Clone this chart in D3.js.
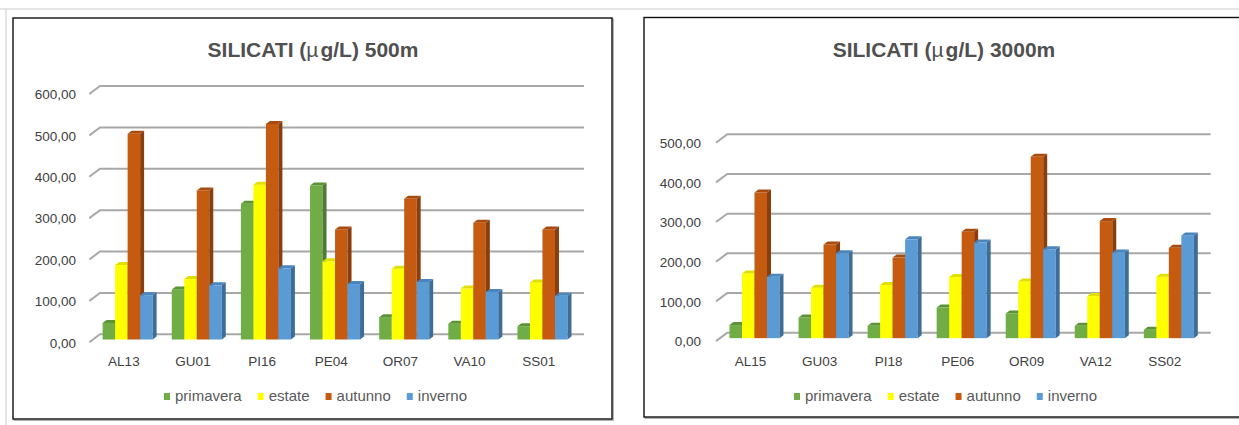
<!DOCTYPE html>
<html>
<head>
<meta charset="utf-8">
<script src="https://cdn.jsdelivr.net/npm/d3@7"></script>
<style>
  html, body { margin: 0; padding: 0; background: #fff; }
  svg { display: block; }
</style>
</head>
<body>
<svg id="chart" width="1239" height="425"></svg>
<script>
// ---- data ----
const seasons = ["primavera", "estate", "autunno", "inverno"];

const stations500 = ["AL13", "GU01", "PI16", "PE04", "OR07", "VA10", "SS01"];
const primavera500 = [40, 121, 328, 372, 54, 38, 32];
const estate500    = [180, 146, 374, 189, 171, 123, 138];
const autunno500   = [497, 360, 521, 266, 340, 282, 266];
const inverno500   = [107, 131, 172, 134, 139, 115, 106];
const ticks500 = [0, 100, 200, 300, 400, 500, 600];

const stations3000 = ["AL15", "GU03", "PI18", "PE06", "OR09", "VA12", "SS02"];
const primavera3000 = [33, 52, 31, 77, 62, 31, 21];
const estate3000    = [163, 127, 134, 154, 143, 106, 155];
const autunno3000   = [367, 236, 203, 268, 457, 295, 228];
const inverno3000   = [155, 214, 249, 241, 224, 216, 259];
const ticks3000 = [0, 100, 200, 300, 400, 500];

// ---- styling ----
const faceColors = { primavera: "#70AD47", estate: "#FFFF00", autunno: "#C55A11", inverno: "#5B9BD5" };
const sideColors = { primavera: "#4E7A31", estate: "#B8B800", autunno: "#8A3E0C", inverno: "#3E6E98" };
const topColors  = { primavera: "#5A9437", estate: "#E0E000", autunno: "#A84B0E", inverno: "#4A86BE" };

const svg = d3.select("#chart");
const fmt = v => d3.format(".2f")(v).replace(".", ",");

// page edge lines
svg.append("line").attr("x1", 0).attr("x2", 1239).attr("y1", 9).attr("y2", 9)
  .attr("stroke", "#dcdcdc").attr("stroke-width", 1.5);
svg.append("line").attr("x1", 6).attr("x2", 6).attr("y1", 9).attr("y2", 425)
  .attr("stroke", "#dcdcdc").attr("stroke-width", 1.5);

function drawChart(opt) {
  const g = svg.append("g");

  // frame with a faint shadow
  g.append("rect")
    .attr("x", opt.frame[0] + 1.2).attr("y", opt.frame[1] + 1.2)
    .attr("width", opt.frame[2]).attr("height", opt.frame[3])
    .attr("fill", "none").attr("stroke", "#a0a0a0").attr("stroke-width", 1.2);
  g.append("rect")
    .attr("x", opt.frame[0]).attr("y", opt.frame[1])
    .attr("width", opt.frame[2]).attr("height", opt.frame[3])
    .attr("fill", "#fff").attr("stroke", "#111").attr("stroke-width", 1.4);

  // title
  const title = g.append("text")
    .attr("x", opt.titleX).attr("y", 57)
    .attr("text-anchor", "middle")
    .attr("font-family", "Liberation Sans, Arial, sans-serif")
    .attr("font-weight", "bold").attr("font-size", 21)
    .attr("fill", "#505050");
  title.append("tspan").text("SILICATI (");
  title.append("tspan").attr("font-weight", "normal").text("\u00B5");
  title.append("tspan").attr("dx", 2).text("g/L) " + opt.depth);

  // scales on the back wall
  const x = d3.scaleBand().domain(opt.categories).range(opt.xRange).padding(0);
  const y = d3.scaleLinear().domain([0, d3.max(opt.ticks)]).range(opt.yRange);
  const [dx, dy] = opt.depthVec;          // floor depth, front -> back

  // gridlines with slanted floor edge
  const grid = g.append("g");
  opt.ticks.forEach(t => {
    grid.append("path")
      .attr("d", `M${opt.xRange[0] - dx},${y(t) - dy} L${opt.xRange[0]},${y(t)} L${opt.xRange[1]},${y(t)}`)
      .attr("fill", "none").attr("stroke", "#a8a8a8").attr("stroke-width", 2);
  });

  // value axis labels
  const yAxis = d3.axisLeft(y).tickValues(opt.ticks).tickFormat(fmt).tickSize(0).tickPadding(0);
  const ya = g.append("g")
    .attr("transform", `translate(${opt.labelRight},${-dy + 0.5})`)
    .call(yAxis);
  ya.select(".domain").remove();
  ya.selectAll("text")
    .attr("font-family", "Liberation Sans, Arial, sans-serif")
    .attr("font-size", 13.5).attr("fill", "#404040");

  // category axis labels
  const xAxis = d3.axisBottom(x).tickSize(0).tickPadding(0);
  const xa = g.append("g")
    .attr("transform", `translate(${-dx},${opt.catY})`)
    .call(xAxis);
  xa.select(".domain").remove();
  xa.selectAll("text")
    .attr("dy", "0.35em")
    .attr("font-family", "Liberation Sans, Arial, sans-serif")
    .attr("font-size", 13.5).attr("fill", "#404040");

  // 3D bars
  const groupW = 50;
  const inner = d3.scaleBand().domain(seasons).range([0, groupW]).padding(0);
  const bw = inner.bandwidth();
  const offX = -0.65 * dx, offY = -0.65 * dy;   // bar front plane
  const bdx = 4, bdy = -3;                        // bar depth
  const bars = g.append("g");
  opt.categories.forEach((c, i) => {
    seasons.forEach(s => {
      const v = opt.series[s][i];
      const x0 = x(c) + (x.bandwidth() - groupW) / 2 + inner(s) + offX;
      const x1 = x0 + bw;
      const yt = y(v) + offY;
      const yb = y(0) + offY;
      // front face
      bars.append("rect").attr("x", x0).attr("y", yt).attr("width", bw).attr("height", yb - yt)
        .attr("fill", faceColors[s]);
      // side face
      bars.append("path")
        .attr("d", `M${x1},${yt} L${x1 + bdx},${yt + bdy} L${x1 + bdx},${yb + bdy} L${x1},${yb} Z`)
        .attr("fill", sideColors[s]);
      // top face
      bars.append("path")
        .attr("d", `M${x0},${yt} L${x0 + bdx},${yt + bdy} L${x1 + bdx},${yt + bdy} L${x1},${yt} Z`)
        .attr("fill", topColors[s]);
    });
  });

  // legend
  const leg = g.append("g");
  const items = [];
  seasons.forEach(s => {
    const it = leg.append("g");
    it.append("rect").attr("x", 0).attr("y", -8).attr("width", 6).attr("height", 7)
      .attr("fill", faceColors[s]);
    const t = it.append("text").attr("x", 11).attr("y", 0)
      .attr("font-family", "Liberation Sans, Arial, sans-serif")
      .attr("font-size", 15).attr("fill", "#595959").text(s);
    items.push({ it, w: 11 + t.node().getComputedTextLength() });
  });
  const gap = 16;
  const total = d3.sum(items, d => d.w) + gap * (items.length - 1);
  let cx = opt.legendCenter - total / 2;
  items.forEach(d => {
    d.it.attr("transform", `translate(${cx},401)`);
    cx += d.w + gap;
  });
}

drawChart({
  frame: [13, 18, 599, 401],
  titleX: 313,
  depth: "500m",
  categories: stations500,
  series: { primavera: primavera500, estate: estate500, autunno: autunno500, inverno: inverno500 },
  ticks: ticks500,
  xRange: [100, 584],
  yRange: [334.3, 86],
  depthVec: [10.7, -8],
  labelRight: 76,
  catY: 361.5,
  legendCenter: 315.5
});

drawChart({
  frame: [644, 17.5, 604, 399.5],
  titleX: 944,
  depth: "3000m",
  categories: stations3000,
  series: { primavera: primavera3000, estate: estate3000, autunno: autunno3000, inverno: inverno3000 },
  ticks: ticks3000,
  xRange: [727.3, 1210.7],
  yRange: [332.7, 134.3],
  depthVec: [11.3, -8.4],
  labelRight: 701,
  catY: 361,
  legendCenter: 945.5
});
</script>
</body>
</html>
